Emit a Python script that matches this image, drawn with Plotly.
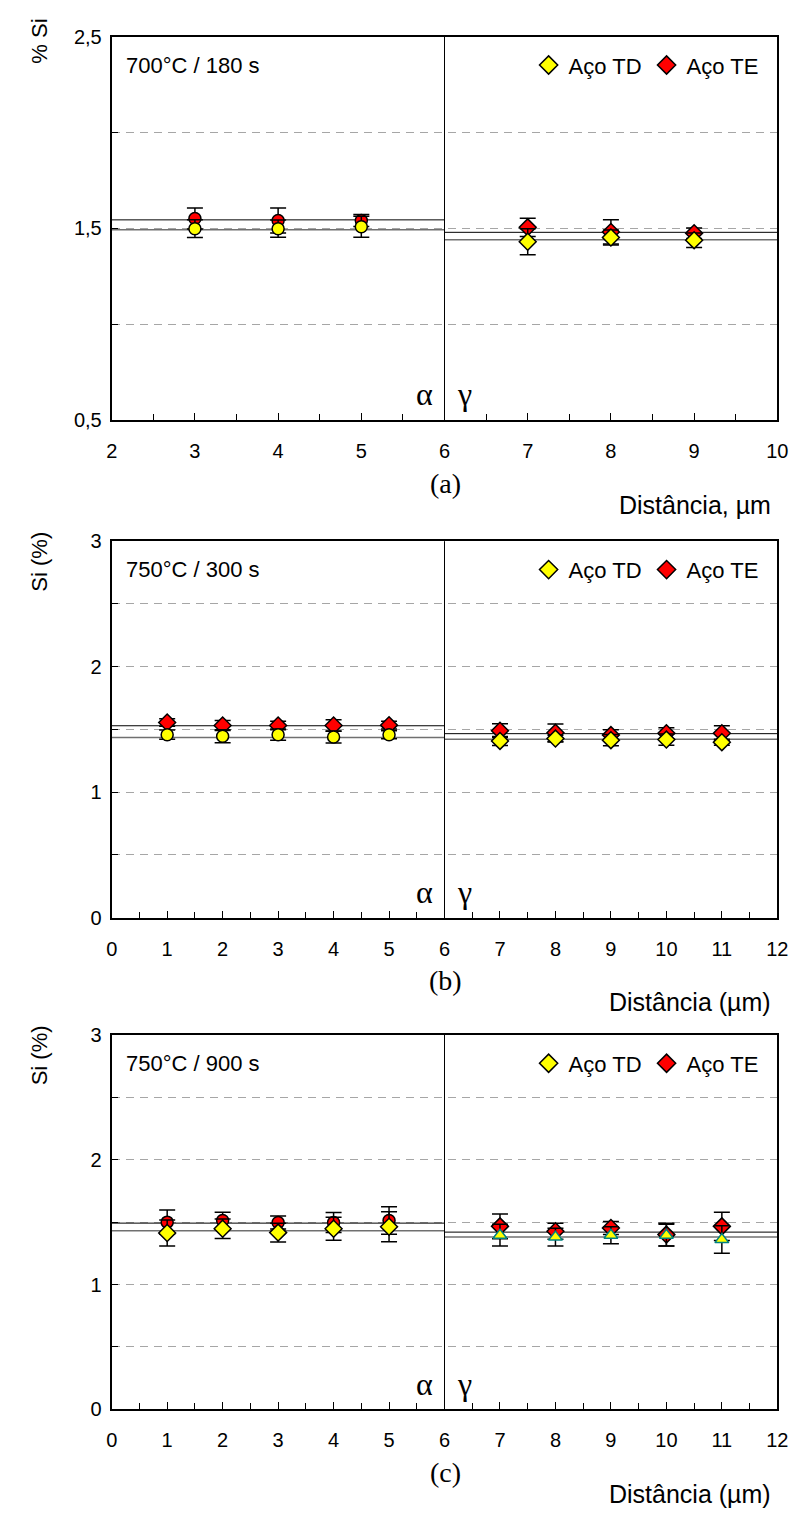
import plotly.graph_objects as go

# ---------------- data ----------------
boundary = 6  # alpha / gamma interface position (um)

# Panel (a) 700°C / 180 s
a_x_alpha = [3, 4, 5]
a_x_gamma = [7, 8, 9]
a_te_alpha = [1.551, 1.541, 1.541]
a_te_alpha_err = [0.055, 0.065, 0.031]
a_td_alpha = [1.498, 1.498, 1.508]
a_td_alpha_err = [0.046, 0.045, 0.055]
a_te_gamma = [1.505, 1.481, 1.474]
a_te_gamma_err = [0.048, 0.063, 0.027]
a_td_gamma = [1.430, 1.452, 1.438]
a_td_gamma_err = [0.068, 0.039, 0.038]
a_mean_te = [1.544, 1.479]   # alpha side, gamma side
a_mean_td = [1.493, 1.440]

# Panel (b) 750°C / 300 s
b_x_alpha = [1, 2, 3, 4, 5]
b_x_gamma = [7, 8, 9, 10, 11]
b_te_alpha = [1.555, 1.531, 1.531, 1.531, 1.534]
b_te_alpha_err = [0.030, 0.039, 0.034, 0.045, 0.031]
b_td_alpha = [1.458, 1.445, 1.458, 1.440, 1.458]
b_td_alpha_err = [0.037, 0.052, 0.045, 0.048, 0.032]
b_te_gamma = [1.490, 1.474, 1.455, 1.469, 1.469]
b_te_gamma_err = [0.055, 0.070, 0.042, 0.045, 0.060]
b_td_gamma = [1.408, 1.427, 1.414, 1.419, 1.398]
b_td_gamma_err = [0.036, 0.027, 0.045, 0.045, 0.024]
b_mean_te = [1.529, 1.466]
b_mean_td = [1.435, 1.422]

# Panel (c) 750°C / 900 s
c_x_alpha = [1, 2, 3, 4, 5]
c_x_gamma = [7, 8, 9, 10, 11]
c_te_alpha = [1.500, 1.513, 1.497, 1.497, 1.513]
c_te_alpha_err = [0.097, 0.066, 0.052, 0.081, 0.110]
c_td_alpha = [1.413, 1.447, 1.416, 1.447, 1.463]
c_td_alpha_err = [0.105, 0.079, 0.076, 0.092, 0.120]
c_te_gamma = [1.466, 1.427, 1.453, 1.400, 1.466]
c_te_gamma_err = [0.100, 0.065, 0.053, 0.092, 0.113]
c_td_gamma = [1.395, 1.380, 1.395, 1.395, 1.360]
c_td_gamma_err = [0.087, 0.071, 0.068, 0.087, 0.110]
c_mean_te = [1.492, 1.420]
c_mean_td = [1.431, 1.380]

# axes / labels
a_xrange = [2, 10]
a_yrange = [0.5, 2.5]
a_ytickvals = [0.5, 1.0, 1.5, 2.0, 2.5]
a_yticktext = ["0,5", "", "1,5", "", "2,5"]
bc_xrange = [0, 12]
bc_yrange = [0, 3]
bc_ytickvals = [0, 0.5, 1, 1.5, 2, 2.5, 3]
bc_yticktext = ["0", "", "1", "", "2", "", "3"]

titles = ["700°C / 180 s", "750°C / 300 s", "750°C / 900 s"]
ytitles = ["% Si", "Si (%)", "Si (%)"]
xtitles = ["Distância, µm", "Distância (µm)", "Distância (µm)"]
panel_tags = ["(a)", "(b)", "(c)"]
series_names = ["Aço TD", "Aço TE"]

# ---------------- layout geometry (pixels) ----------------
W, H = 803, 1513
X_LEFT, X_RIGHT = 108, 788
panels_px = [(26, 415), (538, 920), (1039, 1419)]  # (top, bottom)
ytitle_gap = [20, 12, 12]

def py(v):
    return 1 - v / H

def px(v):
    return v / W

YELLOW = "#FFFF00"
RED = "#FF0000"
TEAL = "#008080"
FONT = "Liberation Sans, Arial, sans-serif"
SERIF = "Liberation Serif, Times New Roman, serif"
TICK_SIZE = 20
TEXT_SIZE = 22

fig = go.Figure()

panels = [
    dict(xr=a_xrange, yr=a_yrange, ytv=a_ytickvals, ytt=a_yticktext,
         xa=a_x_alpha, xg=a_x_gamma,
         te_a=a_te_alpha, te_ae=a_te_alpha_err, td_a=a_td_alpha, td_ae=a_td_alpha_err,
         te_g=a_te_gamma, te_ge=a_te_gamma_err, td_g=a_td_gamma, td_ge=a_td_gamma_err,
         m_te=a_mean_te, m_td=a_mean_td,
         sym=dict(te_a="circle", td_a="circle", te_g="diamond", td_g="diamond")),
    dict(xr=bc_xrange, yr=bc_yrange, ytv=bc_ytickvals, ytt=bc_yticktext,
         xa=b_x_alpha, xg=b_x_gamma,
         te_a=b_te_alpha, te_ae=b_te_alpha_err, td_a=b_td_alpha, td_ae=b_td_alpha_err,
         te_g=b_te_gamma, te_ge=b_te_gamma_err, td_g=b_td_gamma, td_ge=b_td_gamma_err,
         m_te=b_mean_te, m_td=b_mean_td,
         sym=dict(te_a="diamond", td_a="circle", te_g="diamond", td_g="diamond")),
    dict(xr=bc_xrange, yr=bc_yrange, ytv=bc_ytickvals, ytt=bc_yticktext,
         xa=c_x_alpha, xg=c_x_gamma,
         te_a=c_te_alpha, te_ae=c_te_alpha_err, td_a=c_td_alpha, td_ae=c_td_alpha_err,
         te_g=c_te_gamma, te_ge=c_te_gamma_err, td_g=c_td_gamma, td_ge=c_td_gamma_err,
         m_te=c_mean_te, m_td=c_mean_td,
         sym=dict(te_a="circle", td_a="diamond", te_g="diamond", td_g="triangle-up")),
]

annotations = []
shapes = []
layout_axes = {}

for i, p in enumerate(panels):
    k = "" if i == 0 else str(i + 1)
    xa_name, ya_name = "x" + k, "y" + k
    top, bot = panels_px[i]

    # mean lines (drawn first so markers sit on top)
    x0, x1 = p["xr"]
    for side, (xs, xe) in enumerate([(x0, boundary), (boundary, x1)]):
        fig.add_trace(go.Scatter(x=[xs, xe], y=[p["m_te"][side]] * 2, mode="lines",
                                 line=dict(color="black", width=1),
                                 showlegend=False, hoverinfo="skip",
                                 xaxis=xa_name, yaxis=ya_name))
        fig.add_trace(go.Scatter(x=[xs, xe], y=[p["m_td"][side]] * 2, mode="lines",
                                 line=dict(color="#707070", width=1.5),
                                 showlegend=False, hoverinfo="skip",
                                 xaxis=xa_name, yaxis=ya_name))

    def add_series(xv, yv, ev, symbol, fill, edge="black"):
        size = {"circle": 12, "diamond": 13, "triangle-up": 12}[symbol]
        fig.add_trace(go.Scatter(
            x=xv, y=yv, mode="markers",
            marker=dict(symbol=symbol, size=size, color=fill,
                        line=dict(color=edge, width=1.5)),
            error_y=dict(type="data", array=ev, color="black", thickness=1.5, width=8),
            showlegend=False, xaxis=xa_name, yaxis=ya_name))

    s = p["sym"]
    add_series(p["xa"], p["te_a"], p["te_ae"], s["te_a"], RED)
    add_series(p["xa"], p["td_a"], p["td_ae"], s["td_a"], YELLOW)
    add_series(p["xg"], p["te_g"], p["te_ge"], s["te_g"], RED)
    add_series(p["xg"], p["td_g"], p["td_ge"], s["td_g"], YELLOW,
               TEAL if s["td_g"] == "triangle-up" else "black")

    # legend-only entries
    leg = "legend" + k
    for nm, col in zip(series_names, [YELLOW, RED]):
        fig.add_trace(go.Scatter(x=[None], y=[None], mode="markers", name=nm,
                                 marker=dict(symbol="diamond", size=14, color=col,
                                             line=dict(color="black", width=1.5)),
                                 legend=leg, xaxis=xa_name, yaxis=ya_name))
    layout_axes[leg] = dict(x=px(774), xanchor="right", y=py(top + 29), yanchor="middle",
                            orientation="h", bgcolor="rgba(0,0,0,0)", borderwidth=0,
                            font=dict(family=FONT, size=TEXT_SIZE, color="black"),
                            itemwidth=30, tracegroupgap=0)

    dom_y = [py(bot), py(top)]
    layout_axes["xaxis" + k] = dict(
        domain=[px(X_LEFT), px(X_RIGHT)], range=p["xr"], anchor=ya_name,
        dtick=1, tick0=0, ticks="inside", ticklen=7, tickwidth=1, tickcolor="black",
        minor=dict(dtick=0.5, ticks="inside", ticklen=6, tickwidth=1, tickcolor="black"),
        showline=True, linecolor="black", linewidth=2, mirror=True,
        showgrid=False, zeroline=False,
        tickfont=dict(family=FONT, size=TICK_SIZE, color="black"), ticklabelstandoff=12)
    layout_axes["yaxis" + k] = dict(
        domain=dom_y, range=p["yr"], anchor=xa_name,
        tickmode="array", tickvals=p["ytv"], ticktext=p["ytt"],
        ticks="inside", ticklen=6, tickwidth=1, tickcolor="black",
        showline=True, linecolor="black", linewidth=2, mirror=True,
        showgrid=True, gridcolor="#A6A6A6", gridwidth=1, griddash="8px,6px",
        zeroline=False, tickfont=dict(family=FONT, size=TICK_SIZE, color="black"),
        ticklabelstandoff=4)

    # phase boundary
    shapes.append(dict(type="line", xref=xa_name, yref=ya_name + " domain",
                       x0=boundary, x1=boundary, y0=0, y1=1,
                       line=dict(color="black", width=1)))

    # texts
    annotations.append(dict(text=titles[i], x=px(121), y=py(top + 29), xref="paper", yref="paper",
                            xanchor="left", yanchor="middle", showarrow=False,
                            font=dict(family=FONT, size=TEXT_SIZE, color="black")))
    annotations.append(dict(text=ytitles[i], x=px(34), y=py(top - ytitle_gap[i]), xref="paper",
                            yref="paper", xanchor="center", yanchor="top", textangle=-90,
                            showarrow=False,
                            font=dict(family=FONT, size=TEXT_SIZE, color="black")))
    annotations.append(dict(text="α", x=px(438), y=py(bot - 26), xref="paper", yref="paper",
                            xanchor="right", yanchor="middle", showarrow=False,
                            font=dict(family=SERIF, size=32, color="black")))
    annotations.append(dict(text="γ", x=px(459), y=py(bot - 26), xref="paper", yref="paper",
                            xanchor="left", yanchor="middle", showarrow=False,
                            font=dict(family=SERIF, size=32, color="black")))
    annotations.append(dict(text=panel_tags[i], x=px(449), y=py(bot + 64), xref="paper", yref="paper",
                            xanchor="center", yanchor="middle", showarrow=False,
                            font=dict(family=SERIF, size=28, color="black")))
    annotations.append(dict(text=xtitles[i], x=px(784), y=py(bot + 86), xref="paper", yref="paper",
                            xanchor="right", yanchor="middle", showarrow=False,
                            font=dict(family=FONT, size=25, color="black")))

fig.update_layout(
    width=W, height=H, margin=dict(l=0, r=0, t=0, b=0),
    paper_bgcolor="white", plot_bgcolor="white",
    annotations=annotations, shapes=shapes,
    **layout_axes)

fig.write_html("out.html", post_script="document.body.style.margin='0';",
               config={"displayModeBar": False})
